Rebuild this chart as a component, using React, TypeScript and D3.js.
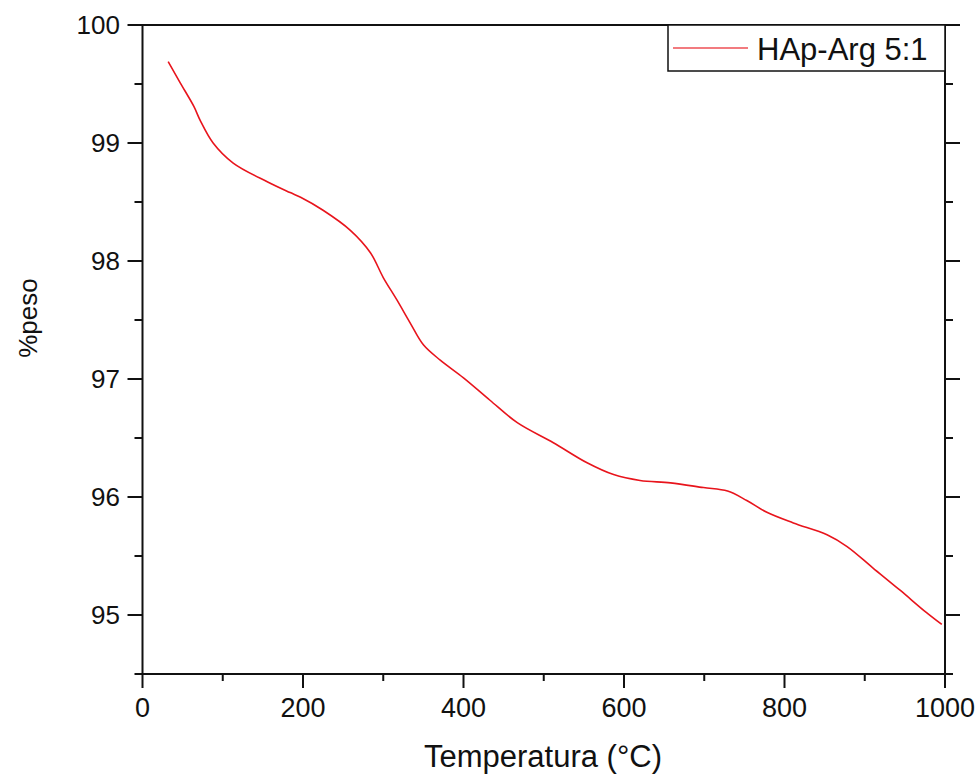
import React from "react";
import * as d3 from "d3";

const temps = [32, 47, 64, 72, 88, 113, 156, 184, 197, 225, 259, 284, 300, 317, 334, 350, 371, 400, 433, 467, 512, 554, 587, 620, 658, 699, 729, 753, 778, 811, 853, 878, 910, 944, 977, 996];
const weights = [99.69, 99.51, 99.31, 99.19, 99.0, 98.83, 98.67, 98.58, 98.54, 98.43, 98.26, 98.07, 97.86, 97.67, 97.47, 97.29, 97.16, 97.01, 96.82, 96.63, 96.46, 96.29, 96.19, 96.14, 96.12, 96.08, 96.05, 95.97, 95.87, 95.78, 95.68, 95.58, 95.40, 95.21, 95.02, 94.92];
const xMajor = [0, 200, 400, 600, 800, 1000];
const xMinor = [100, 300, 500, 700, 900];
const yMajor = [95, 96, 97, 98, 99, 100];
const yMinor = [94.5, 95.5, 96.5, 97.5, 98.5, 99.5];
const seriesName = "HAp-Arg 5:1";
const xTitle = "Temperatura (°C)";
const yTitle = "%peso";

export default function App() {
  const W = 980, H = 782;
  const L = 142.5, R = 945, T = 25, B = 674;
  const x = d3.scaleLinear().domain([0, 1000]).range([L, R]);
  const y = d3.scaleLinear().domain([94.5, 100]).range([B, T]);
  const pts: [number, number][] = temps.map((t, i) => [t, weights[i]]);
  const line = d3.line<[number, number]>().x(d => x(d[0])).y(d => y(d[1])).curve(d3.curveCatmullRom.alpha(0.5));
  const font = "'Liberation Sans', Arial, sans-serif";
  const red = "#e8141c";
  return (
    <svg width={W} height={H} style={{ position: "absolute", left: 0, top: 0, background: "#fff" }} fontFamily={font}>
      <rect x={0} y={0} width={W} height={H} fill="#fff" />
      <path d={line(pts) || ""} fill="none" stroke={red} strokeWidth={1.6} />
      {/* frame */}
      <rect x={L} y={T} width={R - L} height={B - T} fill="none" stroke="#111" strokeWidth={2} />
      {/* x ticks */}
      {xMajor.map(v => (
        <g key={"xm" + v}>
          <line x1={x(v)} x2={x(v)} y1={B} y2={B + 14} stroke="#111" strokeWidth={2} />
          <text x={x(v)} y={717} textAnchor="middle" fontSize={27} fill="#111">{v}</text>
        </g>
      ))}
      {xMinor.map(v => (
        <line key={"xn" + v} x1={x(v)} x2={x(v)} y1={B} y2={B + 7} stroke="#111" strokeWidth={2} />
      ))}
      {/* y ticks left and right */}
      {yMajor.map(v => (
        <g key={"ym" + v}>
          <line x1={L - 15} x2={L} y1={y(v)} y2={y(v)} stroke="#111" strokeWidth={2} />
          <line x1={R} x2={R + 15} y1={y(v)} y2={y(v)} stroke="#111" strokeWidth={2} />
          <text x={120} y={y(v) + 9} textAnchor="end" fontSize={26} fill="#111">{v}</text>
        </g>
      ))}
      {yMinor.map(v => (
        <g key={"yn" + v}>
          <line x1={L - 8} x2={L} y1={y(v)} y2={y(v)} stroke="#111" strokeWidth={2} />
          <line x1={R} x2={R + 8} y1={y(v)} y2={y(v)} stroke="#111" strokeWidth={2} />
        </g>
      ))}
      {/* legend */}
      <rect x={668} y={T} width={R - 668} height={46} fill="#fff" stroke="#111" strokeWidth={1.5} />
      <line x1={673} x2={748} y1={48} y2={48} stroke={red} strokeWidth={1.4} opacity={0.75} />
      <text x={757} y={60} fontSize={31} fill="#111">{seriesName}</text>
      {/* titles */}
      <text x={543} y={767} textAnchor="middle" fontSize={31} fill="#111">{xTitle}</text>
      <text transform={`translate(37,318) rotate(-90)`} textAnchor="middle" fontSize={26} fill="#111">{yTitle}</text>
    </svg>
  );
}
